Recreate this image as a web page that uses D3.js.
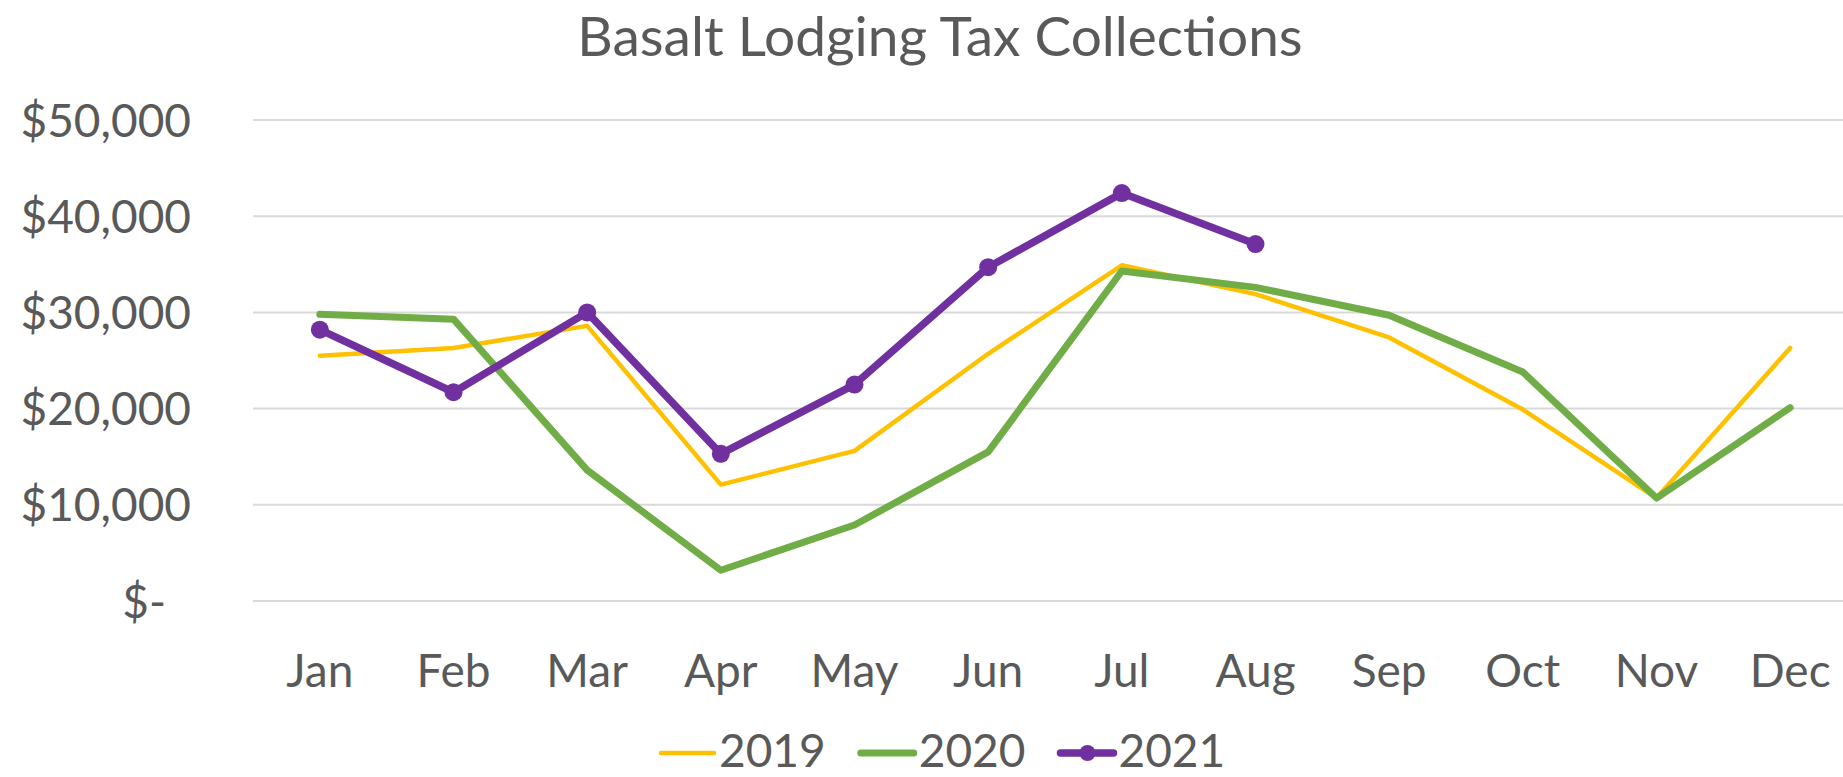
<!DOCTYPE html>
<html>
<head>
<meta charset="utf-8">
<script src="https://cdnjs.cloudflare.com/ajax/libs/d3/7.8.5/d3.min.js"></script>
<style>
  html, body { margin: 0; padding: 0; background: #fff; }
  svg text { font-family: Lato, "Open Sans", sans-serif; fill: #595959; }
</style>
</head>
<body>
<div id="chart-area"></div>
<script>

var months = ["Jan", "Feb", "Mar", "Apr", "May", "Jun", "Jul", "Aug", "Sep", "Oct", "Nov", "Dec"];
var yTicks = [0, 10000, 20000, 30000, 40000, 50000];

var values2019 = [25500, 26300, 28600, 12100, 15600, 25700, 34900, 31900, 27400, 19900, 10700, 26300];
var values2020 = [29800, 29300, 13600, 3200, 7900, 15500, 34300, 32600, 29700, 23800, 10700, 20100];
var values2021 = [28200, 21700, 30000, 15300, 22500, 34700, 42400, 37100];

var width = 1843,
    height = 777;

var series = [
    { name: "2019", values: values2019, color: "#FFC000", stroke: 4.5, marker: false },
    { name: "2020", values: values2020, color: "#70AD47", stroke: 7, marker: false },
    { name: "2021", values: values2021, color: "#7030A0", stroke: 7.5, marker: true }
];

var svg = d3.select("#chart-area")
    .append("svg")
    .attr("width", width)
    .attr("height", height);

var xScale = d3.scalePoint()
    .domain(months)
    .range([253, 1857])
    .padding(0.5);

var yScale = d3.scaleLinear()
    .domain([0, 50000])
    .range([601, 120]);

// gridlines
svg.append("g")
    .selectAll("line")
    .data(yTicks)
    .enter().append("line")
    .attr("x1", 253)
    .attr("x2", width)
    .attr("y1", function(d) { return yScale(d); })
    .attr("y2", function(d) { return yScale(d); })
    .attr("stroke", "#D9D9D9")
    .attr("stroke-width", 2);

// y labels
var fmt = d3.format(",");
svg.append("g")
    .selectAll("text")
    .data(yTicks)
    .enter().append("text")
    .attr("x", function(d) { return d === 0 ? 166 : 191; })
    .attr("y", function(d) { return yScale(d); })
    .attr("dy", "0.36em")
    .attr("text-anchor", "end")
    .style("font-size", "46px")
    .text(function(d) { return d === 0 ? "$-" : "$" + fmt(d); });

// x labels
svg.append("g")
    .selectAll("text")
    .data(months)
    .enter().append("text")
    .attr("x", function(d) { return xScale(d); })
    .attr("y", 687)
    .attr("text-anchor", "middle")
    .style("font-size", "46px")
    .text(function(d) { return d; });

var line = d3.line()
    .x(function(d, i) { return xScale(months[i]); })
    .y(function(d) { return yScale(d); });

series.forEach(function(s) {
    svg.append("path")
        .datum(s.values)
        .attr("d", line)
        .attr("fill", "none")
        .attr("stroke", s.color)
        .attr("stroke-width", s.stroke)
        .attr("stroke-linejoin", "round")
        .attr("stroke-linecap", "round");

    if (s.marker) {
        svg.append("g")
            .selectAll("circle")
            .data(s.values)
            .enter().append("circle")
            .attr("cx", function(d, i) { return xScale(months[i]); })
            .attr("cy", function(d) { return yScale(d); })
            .attr("r", 9)
            .attr("fill", s.color);
    }
});

// title
svg.append("text")
    .attr("x", 940)
    .attr("y", 56)
    .attr("text-anchor", "middle")
    .style("font-size", "55px")
    .text("Basalt Lodging Tax Collections");

// legend
var legend = svg.append("g").attr("class", "legend");
var lx = 659;
series.forEach(function(s) {
    var g = legend.append("g");
    g.append("line")
        .attr("x1", lx + 2)
        .attr("x2", lx + 55)
        .attr("y1", 753)
        .attr("y2", 753)
        .attr("stroke", s.color)
        .attr("stroke-width", s.stroke)
        .attr("stroke-linecap", "round");
    if (s.marker) {
        g.append("circle")
            .attr("cx", lx + 29)
            .attr("cy", 753)
            .attr("r", 8)
            .attr("fill", s.color);
    }
    var t = g.append("text")
        .attr("x", lx + 60)
        .attr("y", 767)
        .style("font-size", "46px")
        .text(s.name);
    lx = lx + 60 + t.node().getComputedTextLength() + 33;
});

</script>
</body>
</html>
